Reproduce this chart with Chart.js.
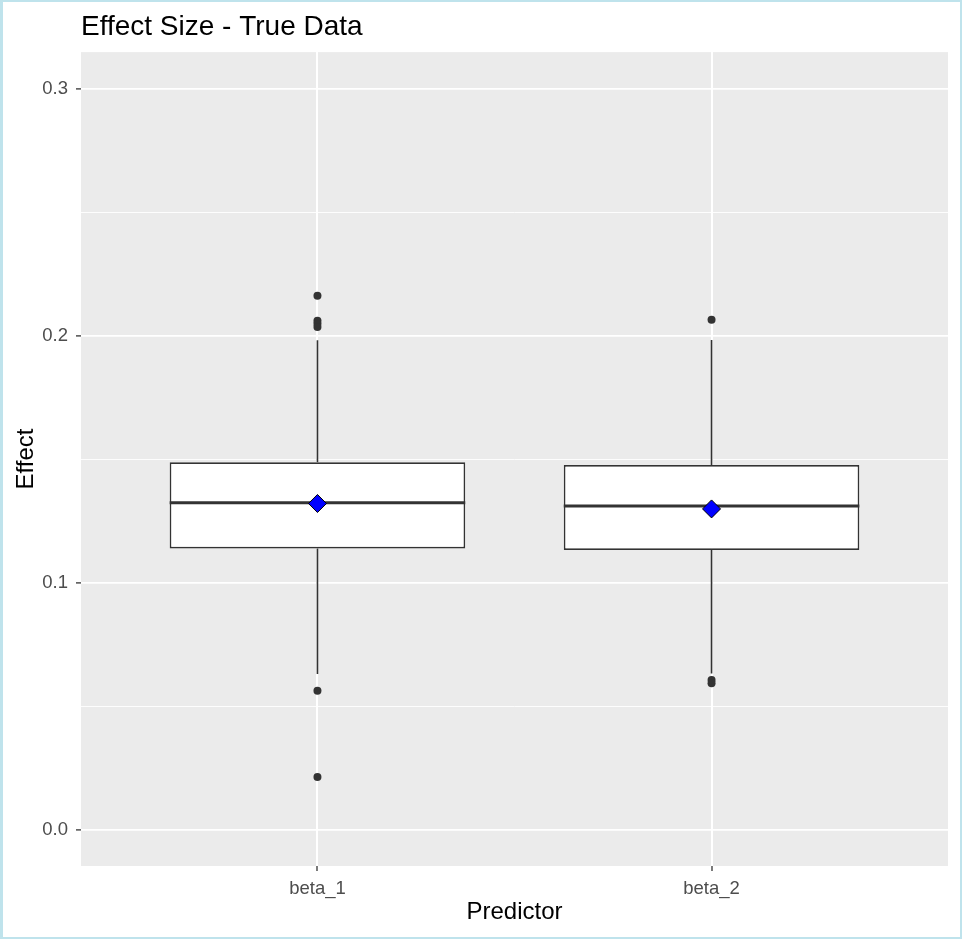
<!DOCTYPE html>
<html>
<head>
<meta charset="utf-8">
<script src="https://cdn.jsdelivr.net/npm/chart.js@4.4.1/dist/chart.umd.min.js"></script>
<style>
  html, body { margin: 0; padding: 0; background: #ffffff; }
  #wrap { position: relative; width: 962px; height: 939px; }
  #frame { position: absolute; left: 0; top: 0; width: 962px; height: 939px; box-sizing: border-box;
           border: 2px solid #BFE3EC; border-left-width: 3px; pointer-events: none; }
</style>
</head>
<body>
<div id="wrap">
  <canvas id="c" width="962" height="939"></canvas>
  <div id="frame"></div>
</div>
<script>
// ---- data ----
const categories = ['beta_1', 'beta_2'];
const q1 = [0.1140, 0.1134];
const medians = [0.1325, 0.1312];
const q3 = [0.1489, 0.1478];
const whiskerLow = [0.0632, 0.0634];
const whiskerHigh = [0.1983, 0.1984];
const means = [0.1322, 0.1300];
const outliersBeta1 = [0.2163, 0.2062, 0.2050, 0.2037, 0.0564, 0.0214];
const outliersBeta2 = [0.2066, 0.0607, 0.0594];
const yMajorTicks = [0.0, 0.1, 0.2, 0.3];
const yMinorTicks = [0.05, 0.15, 0.25];
const yTickLabels = ['0.0', '0.1', '0.2', '0.3'];

// ---- derived structures ----
const BOX_W = 0.75;
const catPos = categories.map((_, i) => i + 1);
const boxData = catPos.map((x, i) => ({ x: x, y: [q1[i], q3[i]] }));
const medianData = [];
catPos.forEach((x, i) => {
  medianData.push({ x: x - BOX_W / 2, y: medians[i] });
  medianData.push({ x: x + BOX_W / 2, y: medians[i] });
  medianData.push({ x: x + 0.5, y: null });
});
const whiskerData = [];
catPos.forEach((x, i) => {
  whiskerData.push({ x: x, y: q3[i] }, { x: x, y: whiskerHigh[i] }, { x: x, y: null });
  whiskerData.push({ x: x, y: q1[i] }, { x: x, y: whiskerLow[i] }, { x: x, y: null });
});
const outlierData = [];
[outliersBeta1, outliersBeta2].forEach((arr, i) => arr.forEach(v => outlierData.push({ x: catPos[i], y: v })));
const meanData = catPos.map((x, i) => ({ x: x, y: means[i] }));

const FONT = "'Liberation Sans', Arial, sans-serif";
const isMajor = v => yMajorTicks.some(t => Math.abs(t - v) < 1e-9);

const panelBg = {
  id: 'panelBg',
  beforeDraw(chart) {
    const a = chart.chartArea, ctx = chart.ctx;
    ctx.save();
    ctx.fillStyle = '#EBEBEB';
    ctx.fillRect(a.left, a.top, a.right - a.left, a.bottom - a.top);
    ctx.restore();
  }
};

new Chart(document.getElementById('c'), {
  data: {
    datasets: [
      { type: 'line', data: whiskerData, borderColor: '#333333', borderWidth: 1.6, pointRadius: 0,
        spanGaps: false, fill: false, order: 5 },
      { type: 'bar', data: boxData, backgroundColor: '#FFFFFF', borderColor: '#333333', borderWidth: 1.7,
        borderSkipped: false, barPercentage: BOX_W, categoryPercentage: 1, grouped: false, order: 4 },
      { type: 'scatter', data: outlierData, pointRadius: 4, pointBackgroundColor: '#333333',
        pointBorderWidth: 0, pointBorderColor: '#333333', order: 3 },
      { type: 'line', data: medianData, borderColor: '#333333', borderWidth: 2.9, pointRadius: 0,
        spanGaps: false, fill: false, order: 2 },
      { type: 'scatter', data: meanData, pointStyle: 'rectRot', pointRadius: 9,
        pointBackgroundColor: '#0000FF', pointBorderColor: '#000000', pointBorderWidth: 1, order: 1 }
    ]
  },
  options: {
    responsive: false,
    animation: false,
    events: [],
    layout: { padding: { left: 0, right: 14, top: 0, bottom: 0 } },
    plugins: {
      legend: { display: false },
      tooltip: { enabled: false },
      title: {
        display: true, text: 'Effect Size - True Data', align: 'start', fullSize: false,
        color: '#000000', font: { family: FONT, size: 28, weight: 'normal' },
        padding: { top: 10, bottom: 8.5 }
      }
    },
    scales: {
      x: {
        type: 'linear', min: 0.4, max: 2.6, offset: false,
        afterBuildTicks(scale) { scale.ticks = catPos.map(v => ({ value: v })); },
        afterFit(scale) { scale.height = 73; },
        ticks: {
          autoSkip: false, padding: 7, color: '#4D4D4D',
          font: { family: FONT, size: 18.5 },
          callback: (v) => categories[Math.round(v) - 1] || ''
        },
        grid: { offset: false, color: '#FFFFFF', lineWidth: 2, tickLength: 5, tickColor: '#333333', tickWidth: 1.3 },
        border: { display: false },
        title: {
          display: true, text: 'Predictor', color: '#000000',
          font: { family: FONT, size: 24 }, padding: { top: 0, bottom: 12 }
        }
      },
      y: {
        type: 'linear', min: -0.0146, max: 0.315,
        afterBuildTicks(scale) {
          scale.ticks = yMajorTicks.concat(yMinorTicks).sort((a, b) => a - b).map(v => ({ value: v }));
        },
        afterFit(scale) { scale.width = 81; },
        ticks: {
          autoSkip: false, padding: 8, color: '#4D4D4D',
          font: { family: FONT, size: 18.5 },
          callback: (v) => {
            const idx = yMajorTicks.findIndex(t => Math.abs(t - v) < 1e-9);
            return idx >= 0 ? yTickLabels[idx] : '';
          }
        },
        grid: {
          color: '#FFFFFF',
          lineWidth: (ctx) => (ctx.tick && isMajor(ctx.tick.value)) ? 1.8 : 0.9,
          tickLength: 5,
          tickColor: (ctx) => (ctx.tick && isMajor(ctx.tick.value)) ? '#333333' : 'rgba(0,0,0,0)',
          tickWidth: 1.3
        },
        border: { display: false },
        title: {
          display: true, text: 'Effect', color: '#000000',
          font: { family: FONT, size: 24 }, padding: { top: 12, bottom: 0 }
        }
      }
    }
  },
  plugins: [panelBg]
});
</script>
</body>
</html>
